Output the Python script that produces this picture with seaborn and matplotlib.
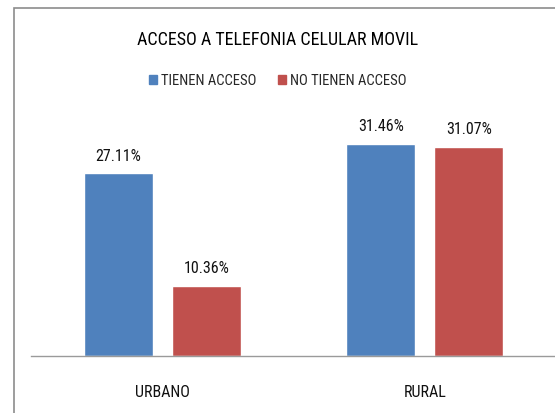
import pandas as pd
import seaborn as sns
import matplotlib.pyplot as plt
from matplotlib.patches import Rectangle

zonas = ["URBANO", "RURAL"]
series = ["TIENEN ACCESO", "NO TIENEN ACCESO"]
tienen = [27.11, 31.46]
no_tienen = [10.36, 31.07]
colores = ["#4F81BD", "#C0504D"]

df = pd.DataFrame({
    "zona": zonas * 2,
    "grupo": [series[0]] * 2 + [series[1]] * 2,
    "valor": tienen + no_tienen,
})

sns.set_style("white")
plt.rcParams["font.family"] = ["Liberation Sans Narrow", "Roboto Condensed",
                               "Liberation Sans", "DejaVu Sans"]

fig = plt.figure(figsize=(5.55, 4.13), dpi=100)
ax = fig.add_axes([0.056, 0.138, 0.946, 0.571])

sns.barplot(data=df, x="zona", y="valor", hue="grupo", order=zonas,
            hue_order=series, palette=colores, width=0.67, gap=0.215,
            saturation=1, ax=ax, legend=False)

for cont in ax.containers:
    ax.bar_label(cont, labels=[f"{v:.2f}%" for v in cont.datavalues],
                 padding=7, fontsize=11.5, color="#111111")

ax.set_ylim(0, 35)
ax.set_xlim(-0.5, 1.5)
ax.set_xlabel("")
ax.set_ylabel("")
ax.set_yticks([])
ax.tick_params(axis="x", length=0, pad=21, labelsize=11.5, labelcolor="#111111")
for s in ["top", "right", "left"]:
    ax.spines[s].set_visible(False)
ax.spines["bottom"].set_color("#9a9a9a")
ax.spines["bottom"].set_linewidth(1)

# marco del grafico
fig.patches.append(Rectangle((14 / 555, -0.1), 1.2, (413 - 8) / 413 + 0.1,
                             transform=fig.transFigure, fill=False,
                             edgecolor="#8c8c8c", linewidth=1.2))

fig.text(0.5, 1 - 40 / 413, "ACCESO A TELEFONIA CELULAR MOVIL", ha="center",
         va="center", fontsize=13, color="black")

handles = [Rectangle((0, 0), 1, 1, color=c) for c in colores]
fig.legend(handles, series, loc="center", bbox_to_anchor=(0.5, 1 - 81 / 413),
           ncol=2, frameon=False, fontsize=10.5, handlelength=0.55,
           handleheight=0.55, handletextpad=0.25, columnspacing=1.5)

plt.savefig("out.png", dpi=100)
